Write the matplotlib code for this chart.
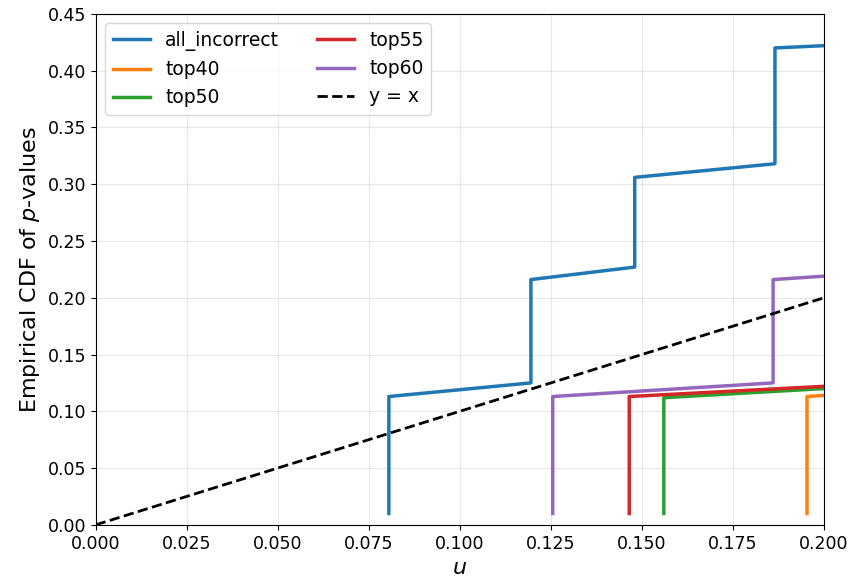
import matplotlib
matplotlib.use("Agg")
import matplotlib.pyplot as plt
import numpy as np

# ECDF-Kurven (Stützpunkte)
all_incorrect_u = [0.0805, 0.0805, 0.1195, 0.1195, 0.148, 0.148, 0.1865, 0.1865, 0.2]
all_incorrect_y = [0.010, 0.113, 0.125, 0.216, 0.227, 0.306, 0.318, 0.420, 0.422]

top40_u = [0.1953, 0.1953, 0.2]
top40_y = [0.010, 0.113, 0.114]

top50_u = [0.156, 0.156, 0.2]
top50_y = [0.010, 0.112, 0.120]

top55_u = [0.1465, 0.1465, 0.2]
top55_y = [0.010, 0.113, 0.122]

top60_u = [0.1255, 0.1255, 0.186, 0.186, 0.2]
top60_y = [0.010, 0.113, 0.125, 0.216, 0.219]

fig, ax = plt.subplots(figsize=(8.54, 5.78), dpi=100)

ax.plot(all_incorrect_u, all_incorrect_y, color='#1f77b4', lw=2.5, label='all_incorrect')
ax.plot(top40_u, top40_y, color='#ff7f0e', lw=2.5, label='top40')
ax.plot(top50_u, top50_y, color='#2ca02c', lw=2.5, label='top50')
ax.plot(top55_u, top55_y, color='#d62728', lw=2.5, label='top55')
ax.plot(top60_u, top60_y, color='#9467bd', lw=2.5, label='top60')

diag = np.array([0, 0.2])
ax.plot(diag, diag, 'k--', lw=2, label='y = x')

ax.set_xlim(0, 0.2)
ax.set_ylim(0, 0.45)
ax.set_xticks(np.arange(0, 0.2001, 0.025))
ax.set_yticks(np.arange(0, 0.4501, 0.05))
ax.xaxis.set_major_formatter(matplotlib.ticker.FormatStrFormatter('%.3f'))
ax.yaxis.set_major_formatter(matplotlib.ticker.FormatStrFormatter('%.2f'))
ax.tick_params(labelsize=12.5)
ax.grid(True, alpha=0.3)

ax.set_xlabel('$u$', fontsize=16)
ax.set_ylabel('Empirical CDF of $p$-values', fontsize=16)
ax.legend(ncol=2, fontsize=13.5, loc='upper left')

plt.subplots_adjust(left=0.112, right=0.965, top=0.976, bottom=0.092)
plt.savefig('out.png', dpi=100)
